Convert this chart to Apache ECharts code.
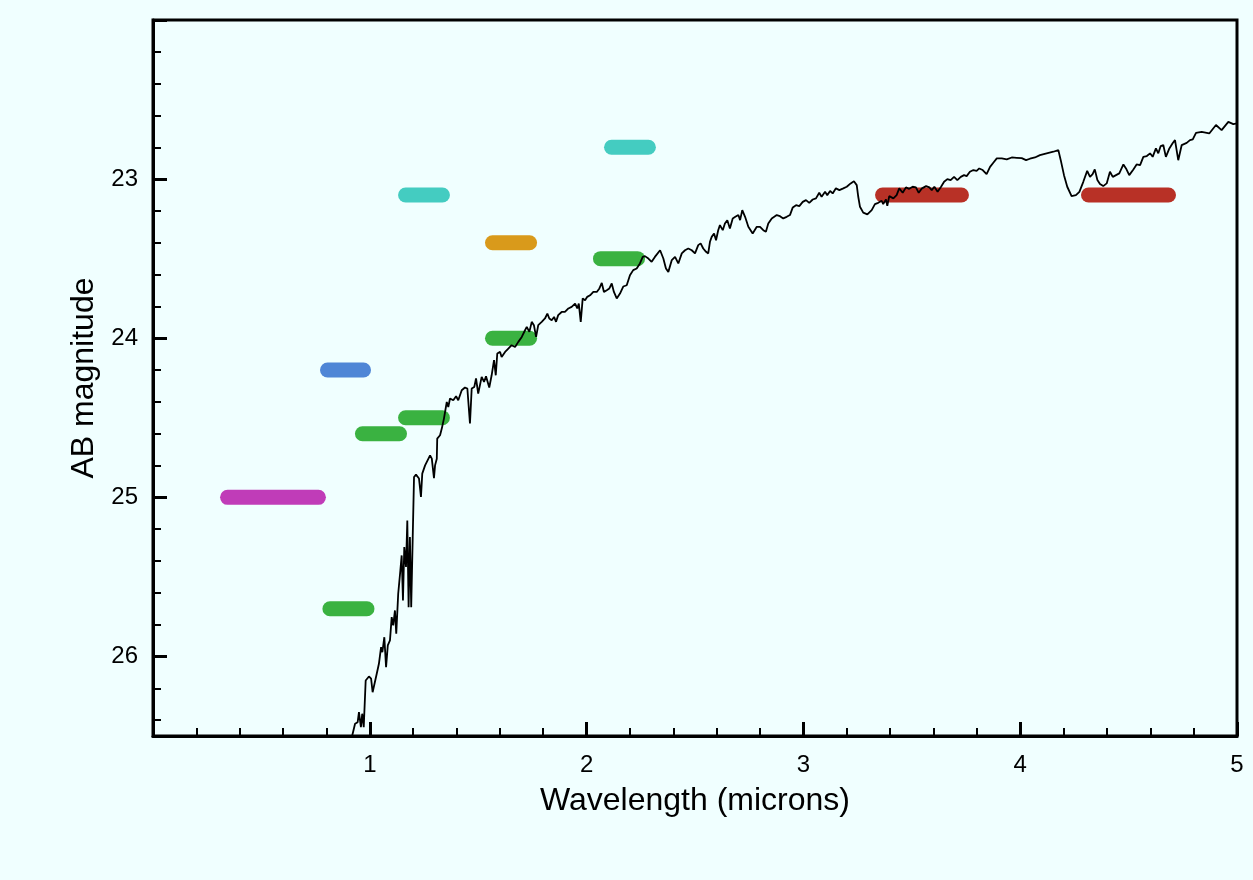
<!DOCTYPE html>
<html>
<head>
<meta charset="utf-8">
<title>AB magnitude vs wavelength</title>
<script src="https://cdn.jsdelivr.net/npm/echarts@6/dist/echarts.min.js"></script>
<style>
  html, body { margin: 0; padding: 0; background: #f0ffff; }
  #chart { width: 1253px; height: 880px; }
</style>
</head>
<body>
<div id="chart"></div>
<script>
// spectrum (microns, AB mag)
var wavelength = [
  0.909,0.919,0.932,0.944,0.950,0.959,0.965,0.972,0.981,0.996,
  1.006,1.013,1.032,1.042,1.052,1.058,1.067,1.075,1.083,1.093,
  1.101,1.108,1.116,1.122,1.131,1.141,1.147,1.153,1.159,1.167,
  1.173,1.179,1.185,1.191,1.198,1.204,1.213,1.227,1.236,1.242,
  1.255,1.278,1.286,1.296,1.301,1.309,1.311,1.324,1.332,1.342,
  1.355,1.362,1.370,1.385,1.398,1.408,1.424,1.439,1.450,1.462,
  1.470,1.482,1.490,1.500,1.516,1.527,1.536,1.551,1.562,1.573,
  1.581,1.588,1.601,1.608,1.624,1.639,1.654,1.670,1.685,1.701,
  1.716,1.724,1.736,1.747,1.757,1.767,1.777,1.793,1.808,1.819,
  1.828,1.839,1.850,1.859,1.869,1.885,1.900,1.916,1.931,1.947,
  1.957,1.964,1.973,1.982,1.993,2.003,2.016,2.031,2.047,2.059,
  2.070,2.080,2.093,2.105,2.116,2.126,2.139,2.154,2.169,2.185,
  2.200,2.215,2.231,2.246,2.259,2.269,2.285,2.300,2.315,2.339,
  2.354,2.366,2.377,2.393,2.408,2.423,2.439,2.454,2.469,2.485,
  2.500,2.515,2.526,2.538,2.551,2.561,2.569,2.577,2.588,2.597,
  2.607,2.615,2.628,2.638,2.649,2.661,2.674,2.686,2.700,2.708,
  2.718,2.731,2.746,2.766,2.785,2.800,2.815,2.827,2.838,2.854,
  2.861,2.877,2.892,2.907,2.923,2.938,2.951,2.966,2.981,2.997,
  3.012,3.027,3.043,3.058,3.073,3.084,3.100,3.110,3.123,3.135,
  3.150,3.166,3.184,3.200,3.218,3.233,3.246,3.253,3.261,3.276,
  3.295,3.315,3.330,3.345,3.361,3.368,3.381,3.387,3.396,3.415,
  3.430,3.442,3.458,3.473,3.488,3.504,3.519,3.532,3.547,3.566,
  3.581,3.592,3.604,3.619,3.635,3.649,3.664,3.679,3.695,3.710,
  3.726,3.741,3.753,3.768,3.784,3.799,3.811,3.827,3.845,3.861,
  3.876,3.892,3.915,3.938,3.961,3.984,4.007,4.027,4.045,4.068,
  4.091,4.122,4.153,4.176,4.187,4.202,4.217,4.237,4.257,4.273,
  4.291,4.309,4.322,4.334,4.344,4.356,4.368,4.383,4.399,4.414,
  4.427,4.442,4.457,4.476,4.488,4.503,4.522,4.537,4.553,4.568,
  4.584,4.599,4.611,4.626,4.637,4.648,4.660,4.672,4.688,4.703,
  4.714,4.729,4.745,4.768,4.783,4.796,4.811,4.837,4.872,4.903,
  4.929,4.960,4.983,5.000
];
var magnitude = [
  26.560,26.497,26.423,26.413,26.350,26.445,26.360,26.445,26.151,26.126,
  26.140,26.225,26.109,26.046,25.942,25.973,25.879,26.067,25.931,25.899,
  25.753,25.805,25.711,25.857,25.606,25.459,25.365,25.648,25.313,25.438,
  25.145,25.690,25.250,25.690,25.250,24.872,24.857,24.882,24.998,24.851,
  24.799,24.736,24.757,24.879,24.799,24.757,24.631,24.610,24.568,24.505,
  24.401,24.432,24.379,24.390,24.365,24.390,24.327,24.310,24.316,24.536,
  24.316,24.306,24.253,24.348,24.243,24.275,24.239,24.310,24.233,24.138,
  24.233,24.096,24.086,24.118,24.086,24.065,24.044,24.055,24.023,23.992,
  23.950,23.929,23.960,23.897,23.918,23.992,23.918,23.897,23.876,23.845,
  23.876,23.887,23.866,23.897,23.855,23.835,23.835,23.813,23.803,23.782,
  23.813,23.782,23.897,23.750,23.761,23.740,23.730,23.709,23.709,23.687,
  23.652,23.709,23.698,23.687,23.656,23.709,23.750,23.719,23.675,23.667,
  23.604,23.572,23.562,23.530,23.489,23.484,23.499,23.520,23.489,23.447,
  23.499,23.562,23.583,23.509,23.489,23.530,23.467,23.447,23.436,23.447,
  23.467,23.415,23.404,23.436,23.457,23.467,23.394,23.363,23.342,23.384,
  23.321,23.289,23.321,23.279,23.258,23.310,23.247,23.237,23.226,23.258,
  23.195,23.237,23.300,23.342,23.300,23.300,23.321,23.331,23.279,23.247,
  23.258,23.226,23.233,23.247,23.237,23.226,23.178,23.164,23.170,23.143,
  23.132,23.149,23.128,23.121,23.086,23.111,23.080,23.101,23.074,23.090,
  23.058,23.069,23.058,23.048,23.027,23.014,23.038,23.111,23.174,23.211,
  23.222,23.195,23.157,23.149,23.136,23.157,23.128,23.168,23.107,23.121,
  23.101,23.058,23.086,23.052,23.061,23.048,23.052,23.086,23.058,23.044,
  23.052,23.069,23.048,23.080,23.048,23.017,23.000,23.006,22.986,23.006,
  22.986,22.975,22.981,22.954,22.943,22.948,22.933,22.943,22.969,22.923,
  22.897,22.870,22.870,22.876,22.864,22.866,22.868,22.881,22.872,22.864,
  22.849,22.838,22.828,22.818,22.881,22.975,23.048,23.107,23.101,23.080,
  23.017,22.948,22.986,22.969,22.939,23.006,23.031,23.044,23.027,22.954,
  22.986,22.975,22.964,22.908,22.933,22.975,22.939,22.908,22.912,22.860,
  22.855,22.838,22.860,22.807,22.838,22.792,22.786,22.860,22.807,22.775,
  22.755,22.881,22.786,22.772,22.755,22.750,22.709,22.703,22.713,22.660,
  22.692,22.640,22.654,22.650
];

// photometric bands: start / end wavelength and magnitude
var bandLo  = [0.344, 0.805, 0.816, 0.966, 1.165, 1.165, 1.566, 1.566, 2.064, 2.115, 3.365, 4.315];
var bandHi  = [0.763, 0.971, 0.987, 1.137, 1.335, 1.335, 1.737, 1.737, 2.235, 2.285, 3.729, 4.684];
var bandMag = [25.0, 24.2, 25.7, 24.6, 24.5, 23.1, 24.0, 23.4, 23.5, 22.8, 23.1, 23.1];

var xTickLabels = ['1', '2', '3', '4', '5'];
var yTickLabels = ['23', '24', '25', '26'];

// colours for each band, same order
var bandColor = ['#c03cb8', '#4f86d6', '#3ab241', '#3ab241', '#3ab241', '#44ccc1',
                 '#3ab241', '#d99a1b', '#3ab241', '#44ccc1', '#b83126', '#b83126'];

var FONT = '"Liberation Sans", Arial, Helvetica, sans-serif';

var myChart = echarts.init(document.getElementById('chart'));

var spectrum = wavelength.map(function(w, i) { return [w, magnitude[i]]; });

var series = bandLo.map(function(lo, i) {
    return {
        type: 'line',
        data: [[lo, bandMag[i]], [bandHi[i], bandMag[i]]],
        showSymbol: false,
        symbol: 'none',
        silent: true,
        z: 2,
        lineStyle: { width: 15, cap: 'round', color: bandColor[i] }
    };
});
series.push({
    type: 'line',
    data: spectrum,
    showSymbol: false,
    symbol: 'none',
    silent: true,
    z: 3,
    lineStyle: { width: 1.8, color: '#000' }
});

var option = {
    backgroundColor: '#f0ffff',
    animation: false,
    grid: {
        left: 153, right: 16, top: 20, bottom: 144,
        show: true,
        borderColor: '#000',
        borderWidth: 3,
        backgroundColor: 'transparent'
    },
    xAxis: {
        type: 'value',
        min: 0, max: 5, interval: 1,
        name: 'Wavelength (microns)',
        nameLocation: 'middle',
        nameGap: 49,
        nameTextStyle: { color: '#000', fontSize: 32, fontFamily: FONT },
        axisLine: { show: true, lineStyle: { color: '#000', width: 3 } },
        axisTick: { show: true, inside: true, length: 14, lineStyle: { color: '#000', width: 3 } },
        minorTick: { show: true, splitNumber: 5, length: 8, lineStyle: { color: '#000', width: 2 } },
        splitLine: { show: false },
        axisLabel: {
            margin: 17, color: '#000', fontSize: 24, fontFamily: FONT,
            formatter: function(v) {
                var s = String(v);
                return xTickLabels.indexOf(s) >= 0 ? s : '';
            }
        }
    },
    yAxis: [{
        type: 'value',
        min: 22, max: 26.5, interval: 1,
        inverse: true,
        position: 'left',
        name: 'AB magnitude',
        nameLocation: 'middle',
        nameGap: 49,
        nameTextStyle: { color: '#000', fontSize: 32, fontFamily: FONT },
        axisLine: { show: true, lineStyle: { color: '#000', width: 3 } },
        axisTick: { show: true, inside: true, length: 14, lineStyle: { color: '#000', width: 3 } },
        splitLine: { show: false },
        axisLabel: {
            margin: 15, color: '#000', fontSize: 24, fontFamily: FONT,
            formatter: function(v) {
                var s = String(v);
                return yTickLabels.indexOf(s) >= 0 ? s : '';
            }
        }
    }, {
        // minor ticks every 0.2 mag
        type: 'value',
        min: 22, max: 26.5, interval: 0.2,
        inverse: true,
        position: 'left',
        offset: 0,
        axisLine: { show: false },
        axisTick: { show: true, inside: true, length: 8, lineStyle: { color: '#000', width: 2 } },
        axisLabel: { show: false },
        splitLine: { show: false }
    }],
    series: series
};

myChart.setOption(option);
</script>
</body>
</html>
